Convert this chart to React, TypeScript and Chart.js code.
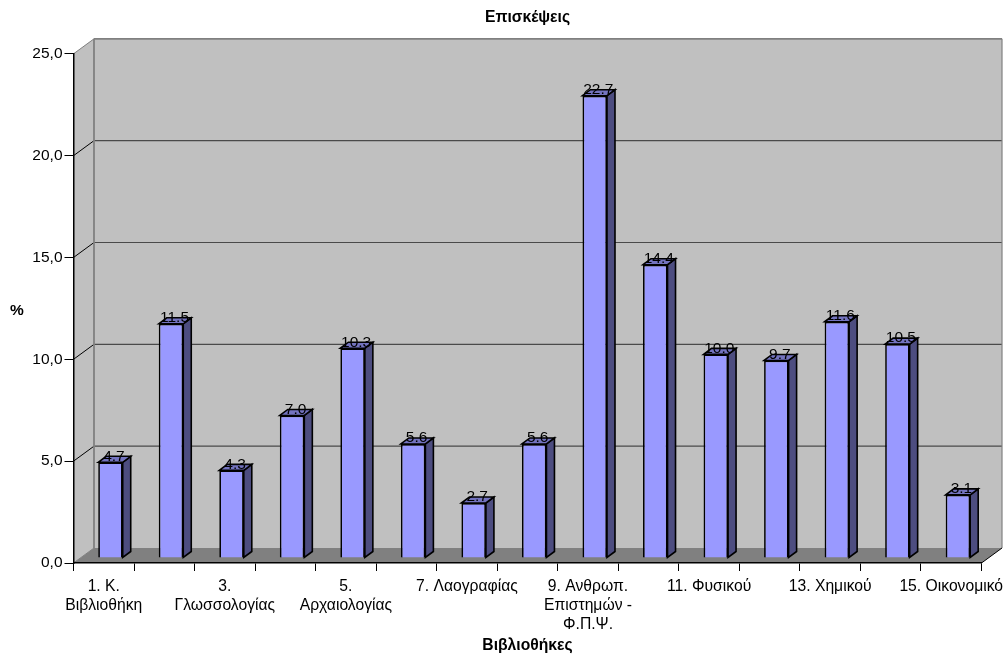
import React, { useEffect, useRef } from "react";
import { Chart, registerables } from "chart.js";

Chart.register(...registerables);

const libraryLabels: (string | string[])[] = [
  ["1. Κ.", "Βιβλιοθήκη"],
  "",
  ["3.", "Γλωσσολογίας"],
  "",
  ["5.", "Αρχαιολογίας"],
  "",
  "7. Λαογραφίας",
  "",
  ["9. Ανθρωπ.", "Επιστημών -", "Φ.Π.Ψ."],
  "",
  "11. Φυσικού",
  "",
  "13. Χημικού",
  "",
  "15. Οικονομικό",
];
const visitShares = [4.7, 11.5, 4.3, 7.0, 10.3, 5.6, 2.7, 5.6, 22.7, 14.4, 10.0, 9.7, 11.6, 10.5, 3.1];
const chartTitle = "Επισκέψεις";
const xTitle = "Βιβλιοθήκες";
const yTitle = "%";

const FONT = '"Liberation Sans", Arial, sans-serif';
const WALL = "#C0C0C0";
const FLOOR = "#808080";
const EDGE = "#808080";
const GRID = "#4a4a4a";
const BAR_FRONT = "#9999FF";
const BAR_TOP = "#7373BF";
const BAR_SIDE = "#4D4D80";

// Depth of the box behind the plot and of each bar
const WALL_DX = 20.5;
const WALL_DY = -15;
const BAR_SHIFT_X = 6.7;
const BAR_SHIFT_Y = -5;
const BAR_DX = 8;
const BAR_DY = -6;

function poly(ctx: CanvasRenderingContext2D, pts: number[][], fill: string, stroke?: string, width = 1) {
  ctx.beginPath();
  pts.forEach(([x, y], i) => (i ? ctx.lineTo(x, y) : ctx.moveTo(x, y)));
  ctx.closePath();
  ctx.fillStyle = fill;
  ctx.fill();
  if (stroke) {
    ctx.strokeStyle = stroke;
    ctx.lineWidth = width;
    ctx.stroke();
  }
}

function line(ctx: CanvasRenderingContext2D, x1: number, y1: number, x2: number, y2: number, color: string, width: number) {
  ctx.beginPath();
  ctx.moveTo(x1, y1);
  ctx.lineTo(x2, y2);
  ctx.strokeStyle = color;
  ctx.lineWidth = width;
  ctx.stroke();
}

// Side wall, back wall and floor, with the value lines carried round them
const wallsPlugin = {
  id: "walls",
  beforeDraw(chart: any) {
    const { ctx, chartArea: a, scales } = chart;
    const y = scales.y;
    const bx = a.left + WALL_DX;
    const rx = a.right + WALL_DX;
    const ty = a.top + WALL_DY;
    const by = a.bottom + WALL_DY;
    ctx.save();
    poly(ctx, [[a.left, a.top], [bx, ty], [bx, by], [a.left, a.bottom]], WALL);
    poly(ctx, [[bx, ty], [rx, ty], [rx, by], [bx, by]], WALL);
    poly(ctx, [[a.left, a.bottom], [bx, by], [rx, by], [a.right, a.bottom]], FLOOR);
    y.ticks.forEach((t: any) => {
      const py = y.getPixelForValue(t.value);
      if (t.value > 0 && t.value < y.max) {
        line(ctx, bx, py + WALL_DY, rx, py + WALL_DY, GRID, 1.2);
      }
      if (t.value > 0) {
        const isTop = t.value === y.max;
        line(ctx, a.left, py, bx, py + WALL_DY, isTop ? EDGE : "#000", 1);
      }
    });
    line(ctx, bx, ty, rx, ty, EDGE, 1.6);
    line(ctx, bx, ty, bx, by, EDGE, 1.8);
    line(ctx, rx, ty, rx, by, EDGE, 1.2);
    line(ctx, a.left, a.bottom, bx, by, EDGE, 1);
    line(ctx, a.right, a.bottom, rx, by, "#000", 1);
    ctx.restore();
  },
};

// Moves the bars into the box and gives each one a top and a side face
const barDepthPlugin = {
  id: "barDepth",
  beforeDatasetsDraw(chart: any) {
    const { ctx } = chart;
    ctx.save();
    ctx.translate(BAR_SHIFT_X, BAR_SHIFT_Y);
    chart.getDatasetMeta(0).data.forEach((bar: any) => {
      const l = bar.x - bar.width / 2;
      const r = bar.x + bar.width / 2;
      poly(ctx, [[r, bar.y], [r + BAR_DX, bar.y + BAR_DY], [r + BAR_DX, bar.base + BAR_DY], [r, bar.base]], BAR_SIDE, "#000", 1.6);
      poly(ctx, [[l, bar.y], [l + BAR_DX, bar.y + BAR_DY], [r + BAR_DX, bar.y + BAR_DY], [r, bar.y]], BAR_TOP, "#000", 1.6);
    });
  },
  afterDatasetsDraw(chart: any) {
    const { ctx } = chart;
    ctx.restore();
    ctx.save();
    ctx.font = `15.5px ${FONT}`;
    ctx.fillStyle = "#000";
    ctx.textAlign = "center";
    ctx.textBaseline = "middle";
    chart.getDatasetMeta(0).data.forEach((bar: any, i: number) => {
      ctx.fillText(visitShares[i].toFixed(1), bar.x + BAR_SHIFT_X + 3.5, bar.y + BAR_SHIFT_Y - 6);
    });
    ctx.restore();
  },
};

// The vertical axis caption stays horizontal
const yCaptionPlugin = {
  id: "yCaption",
  afterDraw(chart: any) {
    const { ctx } = chart;
    ctx.save();
    ctx.font = `bold 15.5px ${FONT}`;
    ctx.fillStyle = "#000";
    ctx.textAlign = "center";
    ctx.textBaseline = "middle";
    ctx.fillText(yTitle, 17, (chart.chartArea.top + chart.chartArea.bottom) / 2 + 2);
    ctx.restore();
  },
};

export default function App() {
  const ref = useRef<HTMLCanvasElement>(null);

  useEffect(() => {
    const chart = new Chart(ref.current!, {
      type: "bar",
      data: {
        labels: libraryLabels as any,
        datasets: [
          {
            data: visitShares,
            backgroundColor: BAR_FRONT,
            borderColor: "#000",
            borderWidth: 1.7,
            barPercentage: 0.405,
            categoryPercentage: 1,
            clip: false as any,
          },
        ],
      },
      options: {
        responsive: false,
        animation: false,
        events: [],
        layout: { padding: { left: 0, right: 26.5, top: 0, bottom: 0 } },
        plugins: {
          legend: { display: false },
          tooltip: { enabled: false },
          title: {
            display: true,
            text: chartTitle,
            fullSize: false,
            color: "#000",
            font: { family: FONT, size: 15.7, weight: "bold", lineHeight: 1.2 },
            padding: { top: 8, bottom: 27 },
          },
        },
        scales: {
          x: {
            afterFit(s: any) {
              s.height = 94;
              s.paddingLeft = 0;
              s.paddingRight = 0;
            },
            grid: {
              offset: true,
              drawOnChartArea: false,
              drawTicks: true,
              tickLength: 8,
              tickColor: "#000",
            },
            border: { color: "#000", width: 1.5 },
            ticks: {
              autoSkip: false,
              maxRotation: 0,
              minRotation: 0,
              padding: 6,
              color: "#000",
              font: { family: FONT, size: 15.7, lineHeight: 1.22 },
            },
            title: {
              display: true,
              text: xTitle,
              color: "#000",
              font: { family: FONT, size: 15.7, weight: "bold" },
              padding: { top: 0, bottom: 2 },
            },
          },
          y: {
            min: 0,
            max: 25,
            afterFit(s: any) {
              s.width = 73.5;
              s.paddingTop = 0;
              s.paddingBottom = 0;
            },
            grid: {
              drawOnChartArea: false,
              drawTicks: true,
              tickLength: 9,
              tickColor: "#000",
            },
            border: { color: "#000", width: 1.5 },
            ticks: {
              stepSize: 5,
              padding: 2,
              color: "#000",
              font: { family: FONT, size: 15.5 },
              callback: (v: any) => Number(v).toFixed(1).replace(".", ","),
            },
          },
        },
      },
      plugins: [wallsPlugin, barDepthPlugin, yCaptionPlugin],
    } as any);
    return () => chart.destroy();
  }, []);

  return (
    <div style={{ position: "absolute", left: 0, top: 0, width: 1008, height: 657, background: "#fff" }}>
      <canvas ref={ref} width={1008} height={657} style={{ display: "block" }} />
    </div>
  );
}
